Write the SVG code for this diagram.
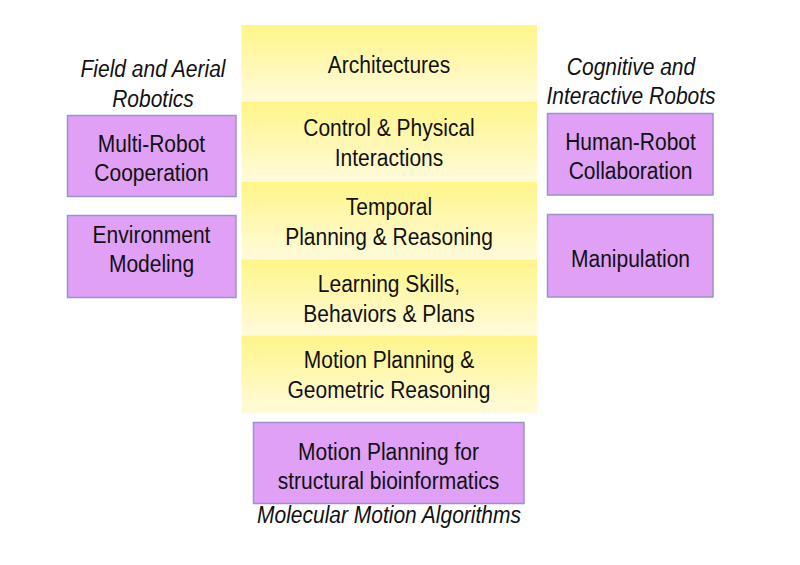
<svg xmlns="http://www.w3.org/2000/svg" width="800" height="565" viewBox="0 0 800 565">
<defs>
<linearGradient id="yg" x1="0" y1="0" x2="0" y2="1">
<stop offset="0" stop-color="#fff589"/>
<stop offset="1" stop-color="#fffbdc"/>
</linearGradient>
</defs>
<style>
.band{fill:url(#yg);stroke:none}
.box{fill:#dfa0f6;stroke:#9a92cc;stroke-width:1.5}
.t{font-family:"Liberation Sans",Arial,sans-serif;font-size:21px;fill:#111;text-anchor:middle}
.i{font-style:italic}
</style>
<rect width="800" height="565" fill="#ffffff"/>
<g id="architectures">
<rect class="band" x="241.5" y="25" width="295.5" height="76.5"/>
<text class="t" transform="translate(389,73) scale(1,1.15)">Architectures</text>
</g>
<g id="control">
<rect class="band" x="241.5" y="101.5" width="295.5" height="80.5"/>
<text class="t" transform="translate(389,136) scale(1,1.15)">Control &amp; Physical</text>
<text class="t" transform="translate(389,166) scale(1,1.15)">Interactions</text>
</g>
<g id="temporal">
<rect class="band" x="241.5" y="182" width="295.5" height="77.5"/>
<text class="t" transform="translate(389,215) scale(1,1.15)">Temporal</text>
<text class="t" transform="translate(389,245) scale(1,1.15)">Planning &amp; Reasoning</text>
</g>
<g id="learning">
<rect class="band" x="241.5" y="259.5" width="295.5" height="76"/>
<text class="t" transform="translate(389,291.5) scale(1,1.15)">Learning Skills,</text>
<text class="t" transform="translate(389,321.5) scale(1,1.15)">Behaviors &amp; Plans</text>
</g>
<g id="motion">
<rect class="band" x="241.5" y="335.5" width="295.5" height="78"/>
<text class="t" transform="translate(389,368) scale(1,1.15)">Motion Planning &amp;</text>
<text class="t" transform="translate(389,398) scale(1,1.15)">Geometric Reasoning</text>
</g>
<g id="field-label">
<text class="t i" transform="translate(153,77) scale(1,1.15)">Field and Aerial</text>
<text class="t i" transform="translate(153,106.5) scale(1,1.15)">Robotics</text>
</g>
<g id="multi-robot">
<rect class="box" x="67.5" y="115.5" width="168.5" height="81"/>
<text class="t" transform="translate(151.5,151.5) scale(1,1.15)">Multi-Robot</text>
<text class="t" transform="translate(151.5,180.5) scale(1,1.15)">Cooperation</text>
</g>
<g id="environment">
<rect class="box" x="67.5" y="215.5" width="168.5" height="82"/>
<text class="t" transform="translate(151.5,243) scale(1,1.15)">Environment</text>
<text class="t" transform="translate(151.5,272) scale(1,1.15)">Modeling</text>
</g>
<g id="cognitive-label">
<text class="t i" transform="translate(631,75) scale(1,1.15)">Cognitive and</text>
<text class="t i" transform="translate(631,104) scale(1,1.15)">Interactive Robots</text>
</g>
<g id="human-robot">
<rect class="box" x="547.5" y="113.5" width="165.5" height="81.5"/>
<text class="t" transform="translate(630.5,150) scale(1,1.15)">Human-Robot</text>
<text class="t" transform="translate(630.5,179) scale(1,1.15)">Collaboration</text>
</g>
<g id="manipulation">
<rect class="box" x="547.5" y="214.5" width="165.5" height="82.5"/>
<text class="t" transform="translate(630.5,266.5) scale(1,1.15)">Manipulation</text>
</g>
<g id="bioinformatics">
<rect class="box" x="253.5" y="422.5" width="270.5" height="81"/>
<text class="t" transform="translate(388.5,460) scale(1,1.15)">Motion Planning for</text>
<text class="t" transform="translate(388.5,489) scale(1,1.15)">structural bioinformatics</text>
</g>
<g id="molecular-label">
<text class="t i" transform="translate(389,522.5) scale(1,1.15)">Molecular Motion Algorithms</text>
</g>
<g id="connectors"></g>
</svg>
